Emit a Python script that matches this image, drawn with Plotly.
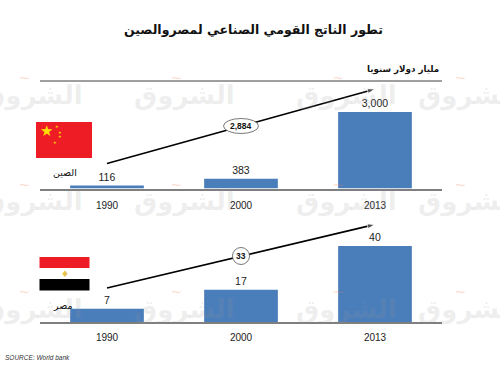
import plotly.graph_objects as go

years = ["1990", "2000", "2013"]
china_values = [116, 383, 3000]
china_labels = ["116", "383", "3,000"]
egypt_values = [7, 17, 40]
egypt_labels = ["7", "17", "40"]
china_arrow_x = ["1990", "2013"]
china_arrow_y = [980, 3902]
egypt_arrow_x = ["1990", "2013"]
egypt_arrow_y = [17.9, 51.3]
title_text = "تطور الناتج القومي الصناعي لمصروالصين"
unit_text = "مليار دولار سنويا"
china_name = "الصين"
egypt_name = "مصر"
china_change = "2,884"
egypt_change = "33"
source_text = "SOURCE: World bank"
watermark_text = "الشروق"

W, H = 500, 375
BAR = "#4a7ebb"
GREY = "#7f7f7f"
LATIN = "Liberation Sans, Arial, sans-serif"
ARAB = "DejaVu Sans, sans-serif"


def px(x):
    return x / W


def py(y):
    return 1 - y / H


fig = go.Figure()

for values, labels, xa, ya in [
    (china_values, china_labels, "x", "y"),
    (egypt_values, egypt_labels, "x2", "y2"),
]:
    fig.add_trace(go.Bar(x=years, y=values, text=labels, textposition="outside",
                         textfont=dict(family=LATIN, size=10.5, color="#222222"),
                         cliponaxis=False, width=0.55, marker=dict(color=BAR, line=dict(width=0)),
                         xaxis=xa, yaxis=ya, showlegend=False))

for ax, ay, xa, ya in [
    (china_arrow_x, china_arrow_y, "x", "y"),
    (egypt_arrow_x, egypt_arrow_y, "x2", "y2"),
]:
    fig.add_trace(go.Scatter(x=ax, y=ay, mode="lines+markers", cliponaxis=False,
                             line=dict(color="#000000", width=1.6),
                             marker=dict(symbol="arrow", angleref="previous", size=[0, 8], color="#000000"),
                             xaxis=xa, yaxis=ya, showlegend=False))

axis_common = dict(type="category", range=[-0.5, 2.5], showgrid=False, zeroline=False,
                   showline=True, linecolor=GREY, linewidth=1.5, ticks="",
                   tickfont=dict(family=LATIN, size=10, color="#222222"))
y_common = dict(visible=False, showgrid=False, zeroline=False)

shapes = [
    dict(type="line", xref="paper", yref="paper", x0=px(40), x1=px(442), y0=py(81), y1=py(81),
         line=dict(color=GREY, width=1.5)),
    dict(type="rect", xref="paper", yref="paper", x0=px(36), x1=px(92), y0=py(122), y1=py(158),
         fillcolor="#ee1c25", line=dict(width=0)),
    dict(type="rect", xref="paper", yref="paper", x0=px(39.5), x1=px(89.5), y0=py(257), y1=py(268),
         fillcolor="#ee1c25", line=dict(width=0)),
    dict(type="rect", xref="paper", yref="paper", x0=px(39.5), x1=px(89.5), y0=py(268), y1=py(279),
         fillcolor="#ffffff", line=dict(width=0)),
    dict(type="rect", xref="paper", yref="paper", x0=px(39.5), x1=px(89.5), y0=py(279), y1=py(290.5),
         fillcolor="#000000", line=dict(width=0)),
    dict(type="circle", xref="paper", yref="paper", x0=px(223.5), x1=px(258.5), y0=py(118.5), y1=py(133.5),
         fillcolor="#ffffff", line=dict(color="#555555", width=0.8), layer="above"),
    dict(type="circle", xref="paper", yref="paper", x0=px(232.5), x1=px(249.5), y0=py(247.5), y1=py(264.5),
         fillcolor="#ffffff", line=dict(color="#555555", width=0.8), layer="above"),
]


def note(x, y, text, size, color="#111111", family=ARAB, xanchor="center", **kw):
    return dict(xref="paper", yref="paper", x=px(x), y=py(y), text=text, showarrow=False,
                xanchor=xanchor, yanchor="middle",
                font=dict(family=family, size=size, color=color), **kw)


annotations = []
for cy in (95, 202, 309):
    for cx in (32, 184, 346, 468):
        annotations.append(note(cx, cy, f"<b>{watermark_text}</b>", 26, color="rgba(150,150,150,0.16)"))
        annotations.append(note(cx - 8, cy - 17, "~", 18, color="rgba(235,120,70,0.25)", family=LATIN))

annotations += [
    note(253, 29, f"<b>{title_text}</b>", 12.5, color="#111111"),
    note(441, 70, f"<b>{unit_text}</b>", 8.7, xanchor="right"),
    note(65, 172, china_name, 9.5),
    note(63, 305.5, egypt_name, 9.5),
    note(241, 126, f"<b>{china_change}</b>", 8.5, family=LATIN),
    note(240.5, 256, f"<b>{egypt_change}</b>", 8.5, family=LATIN),
    note(3, 357, f"<i>{source_text}</i>", 6.5, color="#333333", family=LATIN, xanchor="left"),
    note(46, 131, "★", 15, color="#ffde00", family=ARAB),
    note(57, 126, "★", 4, color="#ffde00", family=ARAB),
    note(60, 132, "★", 4, color="#ffde00", family=ARAB),
    note(60, 137, "★", 4, color="#ffde00", family=ARAB),
    note(55, 142, "★", 4, color="#ffde00", family=ARAB),
    note(64.5, 273.5, "♦", 9, color="#e8c34a", family=ARAB),
]

fig.update_layout(
    width=W, height=H, autosize=False,
    margin=dict(l=0, r=0, t=0, b=0),
    paper_bgcolor="#ffffff", plot_bgcolor="rgba(0,0,0,0)",
    barmode="overlay",
    xaxis=dict(domain=[px(40), px(442)], anchor="y", ticklabelstandoff=7, **axis_common),
    yaxis=dict(domain=[py(188.5), py(81)], anchor="x", range=[0, 4216], **y_common),
    xaxis2=dict(domain=[px(40), px(442)], anchor="y2", ticklabelstandoff=5, **axis_common),
    yaxis2=dict(domain=[py(322), py(222)], anchor="x2", range=[0, 52.6], **y_common),
    shapes=shapes, annotations=annotations,
)

fig.write_html("out.html", config={"displayModeBar": False},
               post_script="document.body.style.margin='0';document.documentElement.style.overflow='hidden';")
